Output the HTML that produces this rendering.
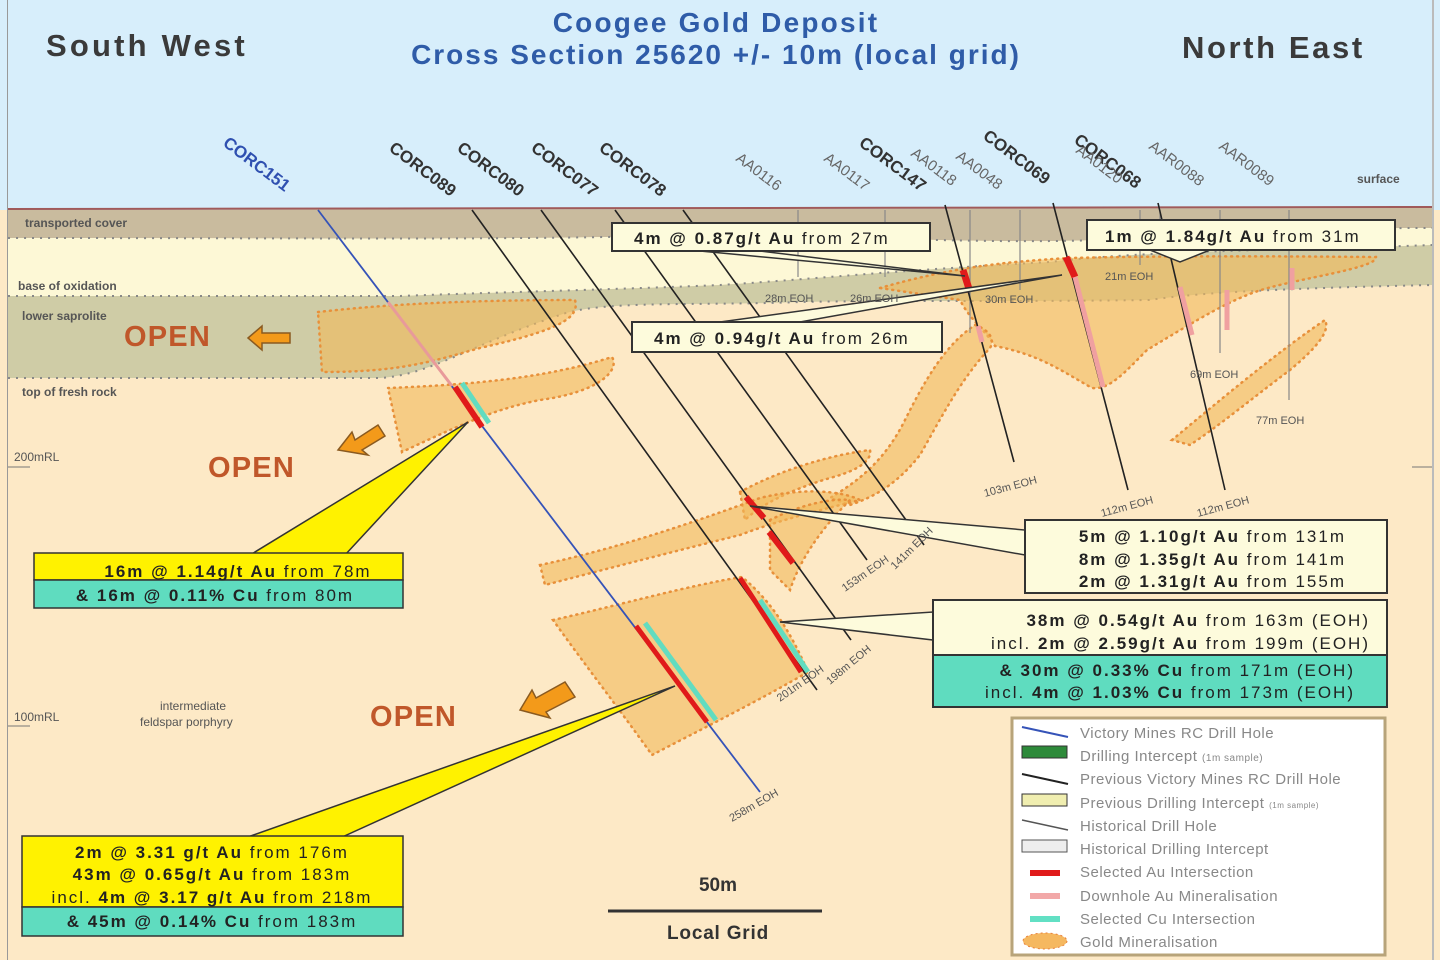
<!DOCTYPE html>
<html><head><meta charset="utf-8"><style>
html,body{margin:0;padding:0;width:1440px;height:960px;overflow:hidden;background:#fde9c6}
svg{display:block;font-family:"Liberation Sans",Arial,sans-serif}
</style></head><body>
<svg width="1440" height="960" viewBox="0 0 1440 960" xmlns="http://www.w3.org/2000/svg">
<rect x="0" y="0" width="1440" height="960" fill="#fde9c6"/>
<rect x="0" y="0" width="1440" height="210" fill="#d7eefb"/>
<path d="M8,210 L1432,208 L1432,228 C1300,228 1200,232 1100,240 C950,245 800,232 650,236 C500,240 300,238 8,238 Z" fill="#c9bb9e"/>
<path d="M8,238 C300,238 500,240 650,236 C800,232 950,245 1100,240 C1200,232 1300,228 1432,228 L1432,245 C1300,250 1150,250 1050,262 C900,270 800,280 720,285 C600,290 500,292 400,296 L8,296 Z" fill="#fdf8d6"/>
<path d="M8,296 L400,296 C500,292 600,290 720,285 C800,280 900,270 1050,262 C1150,250 1300,250 1432,245 L1432,285 C1300,288 1200,292 1150,300 C1000,302 900,300 800,302 C700,306 600,300 560,315 C470,345 430,375 380,378 L8,378 Z" fill="#cfcca6"/>
<g fill="none" stroke="#888" stroke-width="2" stroke-dasharray="2,6">
<path d="M8,238 C300,238 500,240 650,236 C800,232 950,245 1100,240 C1200,232 1300,228 1432,228"/>
<path d="M8,296 L400,296 C500,292 600,290 720,285 C800,280 900,270 1050,262 C1150,250 1300,250 1432,245"/>
<path d="M8,378 L380,378 C430,375 470,345 560,315 C600,300 700,306 800,302 C900,300 1000,302 1150,300 C1200,292 1300,288 1432,285"/>
</g>
<line x1="8" y1="209" x2="1432" y2="207" stroke="#a05a5a" stroke-width="2"/>
<rect x="7" y="0" width="1" height="960" fill="#999"/>
<rect x="1432" y="0" width="2" height="960" fill="#bbb"/>
<line x1="8" y1="467" x2="30" y2="467" stroke="#777"/>
<line x1="8" y1="726" x2="30" y2="726" stroke="#777"/>
<line x1="1412" y1="467" x2="1432" y2="467" stroke="#777"/>

<g fill="#f2b95a" fill-opacity="0.6" stroke="#e8903a" stroke-width="2.5" stroke-dasharray="1,5" stroke-linecap="round">
<path d="M318,312 C380,305 460,300 575,300 C580,318 560,330 480,348 C430,362 400,372 322,372 Z"/>
<path d="M388,388 C460,385 540,380 612,357 C620,370 600,392 540,400 C500,408 470,420 402,452 Z"/>
<path d="M880,288 C950,268 1000,262 1069,258 C1150,256 1250,256 1376,257 C1378,268 1300,278 1261,290 C1230,300 1200,318 1147,350 C1125,372 1110,390 1092,388 C1060,370 1040,355 995,346 C985,330 970,320 960,300 Z"/>
<path d="M975,325 C990,330 995,340 990,348 C960,380 940,420 920,455 C900,480 880,495 850,505 L830,498 C860,480 885,460 905,420 C925,380 945,345 975,325 Z"/>
<path d="M1172,440 C1220,400 1280,350 1325,320 C1330,330 1320,345 1290,370 C1250,400 1220,425 1190,445 Z"/>
<path d="M740,492 C780,470 830,455 870,450 C872,460 860,470 830,478 C790,490 760,505 745,520 Z"/>
<path d="M540,565 C620,548 700,520 760,498 C800,488 840,490 860,500 C820,510 780,520 740,535 C680,550 610,568 545,585 Z"/>
<path d="M770,520 C800,505 830,498 850,500 C820,530 800,560 790,590 L770,570 Z"/>
<path d="M553,620 C620,605 690,585 742,577 C770,600 790,630 808,672 C760,700 700,730 652,755 C620,710 585,665 553,620 Z"/>
</g>

<g stroke="#888" stroke-width="1.2">
<line x1="798" y1="210" x2="798" y2="277"/>
<line x1="885" y1="210" x2="885" y2="277"/>
<line x1="970" y1="210" x2="970" y2="333"/>
<line x1="1020" y1="210" x2="1020" y2="290"/>
<line x1="1140" y1="210" x2="1140" y2="265"/>
<line x1="1160" y1="210" x2="1160" y2="240"/>
<line x1="1220" y1="210" x2="1220" y2="353"/>
<line x1="1289" y1="210" x2="1289" y2="400"/>
</g>
<line x1="318" y1="210" x2="760" y2="792" stroke="#3553b8" stroke-width="1.8"/>
<line x1="388" y1="302" x2="452" y2="386" stroke="#e89a9a" stroke-width="3"/>
<g stroke="#222" stroke-width="1.6">
<line x1="472" y1="210" x2="817" y2="690"/>
<line x1="541" y1="210" x2="851" y2="640"/>
<line x1="615" y1="210" x2="867" y2="560"/>
<line x1="683" y1="210" x2="924" y2="545"/>
<line x1="945" y1="205" x2="1014" y2="462"/>
<line x1="1053" y1="203" x2="1128" y2="490"/>
<line x1="1158" y1="203" x2="1225" y2="490"/>
</g>
<g stroke-linecap="butt">
<line x1="462" y1="383" x2="489" y2="423" stroke="#62dcc0" stroke-width="5"/>
<line x1="455" y1="387" x2="482" y2="427" stroke="#e01a1a" stroke-width="6"/>
<line x1="645" y1="623" x2="716" y2="720" stroke="#62dcc0" stroke-width="5"/>
<line x1="636" y1="626" x2="707" y2="722" stroke="#e01a1a" stroke-width="5"/>
<line x1="740" y1="578" x2="801" y2="672" stroke="#e01a1a" stroke-width="5"/>
<line x1="760" y1="600" x2="808" y2="672" stroke="#62dcc0" stroke-width="5"/>
<line x1="746" y1="497" x2="764" y2="518" stroke="#e01a1a" stroke-width="6"/>
<line x1="769" y1="532" x2="793" y2="563" stroke="#e01a1a" stroke-width="6"/>
<line x1="963" y1="270" x2="970" y2="292" stroke="#e01a1a" stroke-width="7"/>
<line x1="1066" y1="257" x2="1075" y2="277" stroke="#e01a1a" stroke-width="7"/>
<line x1="1075" y1="277" x2="1103" y2="387" stroke="#f0a0a0" stroke-width="5"/>
<line x1="1180" y1="287" x2="1192" y2="335" stroke="#f0a0a0" stroke-width="5"/>
<line x1="1227" y1="290" x2="1227" y2="330" stroke="#f0a0a0" stroke-width="5"/>
<line x1="1292" y1="268" x2="1292" y2="290" stroke="#f0a0a0" stroke-width="5"/>
<line x1="978" y1="326" x2="982" y2="342" stroke="#f0a0a0" stroke-width="5"/>
</g>

<polygon points="250,555 345,555 468,422" fill="#fff200" stroke="#333" stroke-width="1.5"/>
<rect x="34" y="553" width="369" height="27" fill="#fff200" stroke="#333" stroke-width="1.5"/>
<rect x="34" y="580" width="369" height="28" fill="#5fdcbf" stroke="#333" stroke-width="1.5"/>
<polygon points="245,838 340,838 675,686" fill="#fff200" stroke="#333" stroke-width="1.5"/>
<rect x="22" y="836" width="381" height="71" fill="#fff200" stroke="#333" stroke-width="1.5"/>
<rect x="22" y="907" width="381" height="29" fill="#5fdcbf" stroke="#333" stroke-width="1.5"/>

<polygon points="700,251 760,251 965,276" fill="#fdfbdc" stroke="#333" stroke-width="1.5"/>
<rect x="612" y="223" width="318" height="28" fill="#fdfbdc" stroke="#333" stroke-width="2"/>
<polygon points="720,322 800,322 1062,275" fill="#fdfbdc" stroke="#333" stroke-width="1.5"/>
<rect x="632" y="322" width="310" height="30" fill="#fdfbdc" stroke="#333" stroke-width="2"/>
<polygon points="1150,250 1210,250 1180,262" fill="#fdfbdc" stroke="#333" stroke-width="1.5"/>
<rect x="1087" y="220" width="308" height="30" fill="#fdfbdc" stroke="#333" stroke-width="2"/>
<polygon points="1025,530 1025,555 750,506" fill="#fdfbdc" stroke="#333" stroke-width="1.5"/>
<rect x="1025" y="520" width="362" height="73" fill="#fdfbdc" stroke="#333" stroke-width="2"/>
<polygon points="933,612 933,640 780,622" fill="#fdfbdc" stroke="#333" stroke-width="1.5"/>
<rect x="933" y="600" width="454" height="55" fill="#fdfbdc" stroke="#333" stroke-width="2"/>
<rect x="933" y="655" width="454" height="52" fill="#5fdcbf" stroke="#333" stroke-width="2"/>

<g font-weight="bold">
<text x="716" y="32" font-size="28" fill="#2f5ca8" text-anchor="middle" letter-spacing="2.2">Coogee Gold Deposit</text>
<text x="716" y="64" font-size="28" fill="#2f5ca8" text-anchor="middle" letter-spacing="2">Cross Section 25620 +/- 10m (local grid)</text>
<text x="46" y="56" font-size="31" fill="#3a3a3a" letter-spacing="3.2">South West</text>
<text x="1182" y="58" font-size="31" fill="#3a3a3a" letter-spacing="2.6">North East</text>
</g>
<g font-size="17" font-weight="bold" fill="#333">
<text transform="translate(222,145) rotate(37)" fill="#2f50b0">CORC151</text>
<text transform="translate(388,150) rotate(37)">CORC089</text>
<text transform="translate(456,150) rotate(37)">CORC080</text>
<text transform="translate(530,150) rotate(37)">CORC077</text>
<text transform="translate(598,150) rotate(37)">CORC078</text>
<text transform="translate(858,145) rotate(37)">CORC147</text>
<text transform="translate(982,138) rotate(37)">CORC069</text>
<text transform="translate(1073,142) rotate(37)">CORC068</text>
</g>
<g font-size="15" fill="#666">
<text transform="translate(735,160) rotate(37)">AA0116</text>
<text transform="translate(823,160) rotate(37)">AA0117</text>
<text transform="translate(910,155) rotate(37)">AA0118</text>
<text transform="translate(955,158) rotate(37)">AA0048</text>
<text transform="translate(1075,152) rotate(37)">AA0120</text>
<text transform="translate(1148,148) rotate(37)">AAR0088</text>
<text transform="translate(1218,148) rotate(37)">AAR0089</text>
</g>
<g font-size="12" fill="#555">
<text x="1357" y="183" font-weight="bold">surface</text>
<text x="25" y="227" font-weight="bold">transported cover</text>
<text x="18" y="290" font-weight="bold">base of oxidation</text>
<text x="22" y="320" font-weight="bold">lower saprolite</text>
<text x="22" y="396" font-weight="bold">top of fresh rock</text>
<text x="14" y="461">200mRL</text>
<text x="14" y="721">100mRL</text>
<text x="160" y="710">intermediate</text>
<text x="140" y="726">feldspar porphyry</text>
<text x="765" y="302" font-size="11">28m EOH</text>
<text x="850" y="302" font-size="11">26m EOH</text>
<text x="985" y="303" font-size="11">30m EOH</text>
<text x="1105" y="280" font-size="11">21m EOH</text>
<text x="1190" y="378" font-size="11">69m EOH</text>
<text x="1256" y="424" font-size="11">77m EOH</text>
<text transform="translate(985,497) rotate(-15)" font-size="11">103m EOH</text>
<text transform="translate(1102,517) rotate(-15)" font-size="11">112m EOH</text>
<text transform="translate(1198,517) rotate(-15)" font-size="11">112m EOH</text>
<text transform="translate(845,592) rotate(-35)" font-size="11">153m EOH</text>
<text transform="translate(895,570) rotate(-45)" font-size="11">141m EOH</text>
<text transform="translate(780,702) rotate(-35)" font-size="11">201m EOH</text>
<text transform="translate(830,685) rotate(-40)" font-size="11">198m EOH</text>
<text transform="translate(732,822) rotate(-30)" font-size="11">258m EOH</text>
</g>
<g font-size="29" font-weight="bold" fill="#c0572a" letter-spacing="1.2">
<text x="124" y="346">OPEN</text>
<text x="208" y="477">OPEN</text>
<text x="370" y="726">OPEN</text>
</g>
<g fill="#f39a1a" stroke="#8a5a20" stroke-width="1.5">
<polygon points="248,338 262,326 262,333 290,333 290,343 262,343 262,350"/>
<polygon points="338,450 352,432 355,440 378,425 385,436 362,450 368,455"/>
<polygon points="520,710 532,690 536,698 565,682 575,697 546,712 550,718"/>
</g>
<g font-size="17" fill="#222" letter-spacing="2">
<text x="634" y="244"><tspan font-weight="bold">4m @ 0.87g/t Au</tspan> from 27m</text>
<text x="654" y="344"><tspan font-weight="bold">4m @ 0.94g/t Au</tspan> from 26m</text>
<text x="1105" y="242"><tspan font-weight="bold">1m @ 1.84g/t Au</tspan> from 31m</text>
<text x="1346" y="542" text-anchor="end"><tspan font-weight="bold">5m @ 1.10g/t Au</tspan> from 131m</text>
<text x="1346" y="565" text-anchor="end"><tspan font-weight="bold">8m @ 1.35g/t Au</tspan> from 141m</text>
<text x="1346" y="587" text-anchor="end"><tspan font-weight="bold">2m @ 1.31g/t Au</tspan> from 155m</text>
<text x="1370" y="626" text-anchor="end"><tspan font-weight="bold">38m @ 0.54g/t Au</tspan> from 163m (EOH)</text>
<text x="1370" y="649" text-anchor="end">incl. <tspan font-weight="bold">2m @ 2.59g/t Au</tspan> from 199m (EOH)</text>
<text x="1355" y="676" text-anchor="end"><tspan font-weight="bold">&amp;  30m @ 0.33% Cu</tspan> from 171m (EOH)</text>
<text x="1355" y="698" text-anchor="end">incl. <tspan font-weight="bold">4m @ 1.03% Cu</tspan> from 173m (EOH)</text>
<text x="238" y="577" text-anchor="middle"><tspan font-weight="bold">16m @ 1.14g/t Au</tspan> from 78m</text>
<text x="215" y="601" text-anchor="middle"><tspan font-weight="bold">&amp; 16m @ 0.11% Cu</tspan> from 80m</text>
<text x="212" y="858" text-anchor="middle"><tspan font-weight="bold">2m @ 3.31 g/t Au</tspan> from 176m</text>
<text x="212" y="880" text-anchor="middle"><tspan font-weight="bold">43m @ 0.65g/t Au</tspan> from 183m</text>
<text x="212" y="903" text-anchor="middle">incl. <tspan font-weight="bold">4m @ 3.17 g/t Au</tspan> from 218m</text>
<text x="212" y="927" text-anchor="middle"><tspan font-weight="bold">&amp;  45m @ 0.14% Cu</tspan> from 183m</text>
</g>
<text x="718" y="891" font-size="19" font-weight="bold" fill="#333" text-anchor="middle">50m</text>
<line x1="608" y1="911" x2="822" y2="911" stroke="#333" stroke-width="3"/>
<text x="718" y="939" font-size="19" font-weight="bold" fill="#333" text-anchor="middle" letter-spacing="0.8">Local Grid</text>
<rect x="1012" y="718" width="373" height="237" fill="#fff" stroke="#b8a47a" stroke-width="3"/>
<g font-size="15" fill="#888" letter-spacing="0.5">
<text x="1080" y="738">Victory Mines RC Drill Hole</text>
<text x="1080" y="761">Drilling Intercept <tspan font-size="10">  (1m sample)</tspan></text>
<text x="1080" y="784">Previous Victory Mines RC Drill Hole</text>
<text x="1080" y="808">Previous Drilling Intercept <tspan font-size="8">  (1m sample)</tspan></text>
<text x="1080" y="831">Historical Drill Hole</text>
<text x="1080" y="854">Historical Drilling Intercept</text>
<text x="1080" y="877">Selected Au Intersection</text>
<text x="1080" y="901">Downhole Au Mineralisation</text>
<text x="1080" y="924">Selected Cu Intersection</text>
<text x="1080" y="947">Gold Mineralisation</text>
</g>
<line x1="1022" y1="727" x2="1068" y2="737" stroke="#3553b8" stroke-width="2"/>
<rect x="1022" y="746" width="45" height="12" fill="#2d8a3a" stroke="#333"/>
<line x1="1022" y1="774" x2="1068" y2="784" stroke="#222" stroke-width="2"/>
<rect x="1022" y="794" width="45" height="12" fill="#f0eeb0" stroke="#333"/>
<line x1="1022" y1="820" x2="1068" y2="830" stroke="#555" stroke-width="1.5"/>
<rect x="1022" y="840" width="45" height="12" fill="#eee" stroke="#555"/>
<rect x="1030" y="870" width="30" height="6" fill="#e01a1a"/>
<rect x="1030" y="893" width="30" height="6" fill="#f2a8a8"/>
<rect x="1030" y="916" width="30" height="6" fill="#62e0c4"/>
<ellipse cx="1045" cy="941" rx="22" ry="8" fill="#f5b860" stroke="#e8803a" stroke-dasharray="2,3"/>
</svg>
</body></html>
